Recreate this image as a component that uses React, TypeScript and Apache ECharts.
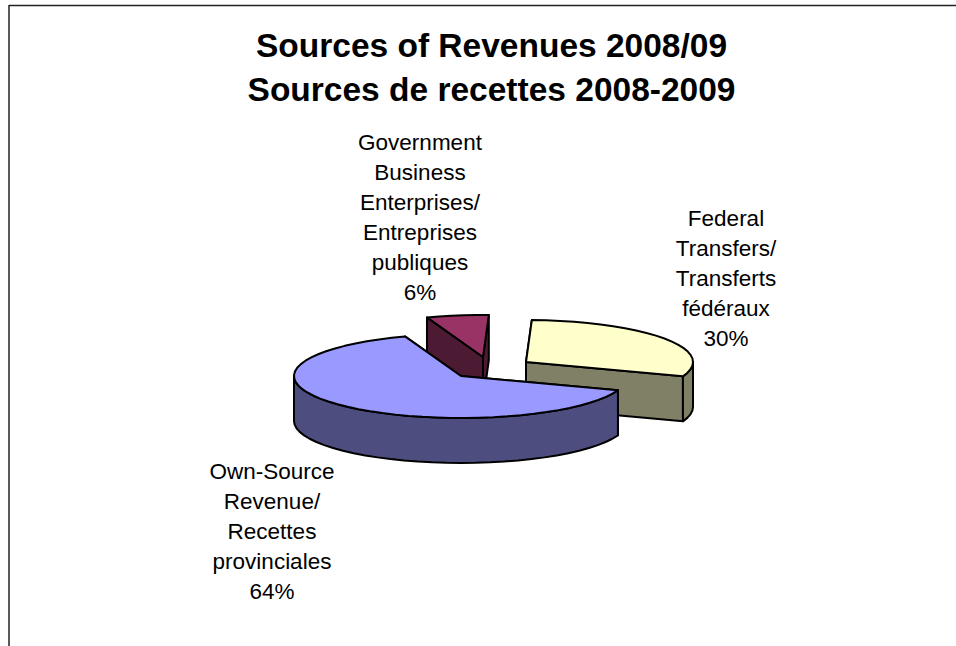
import React, { useEffect, useRef } from "react";
import * as echarts from "echarts";

// Slices in pie order, clockwise from the top
const categories = [
  ["Federal", "Transfers/", "Transferts", "fédéraux"],
  ["Own-Source", "Revenue/", "Recettes", "provinciales"],
  ["Government", "Business", "Enterprises/", "Entreprises", "publiques"],
];
const shares = [30, 64, 6];
const titleLines = ["Sources of Revenues 2008/09", "Sources de recettes 2008-2009"];

const topColors = ["#FFFFCC", "#9999FF", "#993366"];
const wallColors = ["#808066", "#4D4D80", "#4D1A33"];
const sliceOffsets = [[65, -14], [0, 0], [22, -19]];
const labelCentres = [[726, 278], [272, 531], [420, 217]];
const drawLayers = [1, 2, 0];

const CX = 461;
const CY = 376;
const RX = 167;
const RY = 42;
const DEPTH = 45;
const START_DEG = -88;
const FONT = "Liberation Sans, Arial, sans-serif";

const total = shares.reduce((a, b) => a + b, 0);

function arcPoints(ox: number, oy: number, from: number, to: number, dy = 0) {
  const steps = Math.max(2, Math.ceil(Math.abs(to - from) / 5));
  const pts: number[][] = [];
  for (let i = 0; i <= steps; i++) {
    const t = ((from + ((to - from) * i) / steps) * Math.PI) / 180;
    pts.push([ox + RX * Math.cos(t), oy + RY * Math.sin(t) + dy]);
  }
  return pts;
}

function renderSlice(params: any, api: any) {
  const i = params.dataIndex;
  const value = api.value(0);
  let before = 0;
  for (let k = 0; k < i; k++) before += shares[k];
  const from = START_DEG + (before / total) * 360;
  const to = from + (value / total) * 360;
  const ox = CX + sliceOffsets[i][0];
  const oy = CY + sliceOffsets[i][1];
  const layer = drawLayers[i] * 10;
  const line = { stroke: "#000", lineWidth: 2, lineJoin: "round" };
  const wall = (points: number[][], z: number) => ({
    type: "polygon",
    z2: layer + z,
    shape: { points },
    style: { fill: wallColors[i], ...line },
  });

  const children: any[] = [];
  const tip = [ox, oy];
  const a0 = arcPoints(ox, oy, from, from)[0];
  const a1 = arcPoints(ox, oy, to, to)[0];
  // flat cut faces behind the rim
  children.push(
    wall([tip, a0, [a0[0], a0[1] + DEPTH], [tip[0], tip[1] + DEPTH]], 1),
    wall([tip, a1, [a1[0], a1[1] + DEPTH], [tip[0], tip[1] + DEPTH]], 1)
  );
  // rim: only the part of the arc that faces the viewer (0..180 degrees)
  for (const base of [-360, 0, 360]) {
    const s = Math.max(from, base);
    const e = Math.min(to, base + 180);
    if (e > s) {
      const upper = arcPoints(ox, oy, s, e);
      const lower = arcPoints(ox, oy, s, e, DEPTH).reverse();
      children.push(wall([...upper, ...lower], 2));
    }
  }
  children.push({
    type: "polygon",
    z2: layer + 3,
    shape: { points: [tip, ...arcPoints(ox, oy, from, to)] },
    style: { fill: topColors[i], ...line },
  });
  children.push({
    type: "text",
    z2: 100,
    style: {
      text: [...categories[i], `${value}%`].join("\n"),
      x: labelCentres[i][0],
      y: labelCentres[i][1],
      align: "center",
      verticalAlign: "middle",
      font: `22.5px ${FONT}`,
      lineHeight: 30,
      fill: "#000",
    },
  });
  return { type: "group", children };
}

export default function App() {
  const ref = useRef<HTMLDivElement>(null);
  useEffect(() => {
    const chart = echarts.init(ref.current!, null, { renderer: "svg" });
    chart.setOption({
      animation: false,
      backgroundColor: "#fff",
      title: {
        text: titleLines.join("\n"),
        left: 486.5,
        top: 18,
        textAlign: "center",
        textStyle: {
          fontFamily: FONT,
          fontSize: 33.5,
          fontWeight: "bold",
          lineHeight: 44,
          color: "#000",
        },
      },
      graphic: [
        { type: "line", shape: { x1: 9, y1: 5.5, x2: 956, y2: 5.5 }, style: { stroke: "#222", lineWidth: 1.5 } },
        { type: "line", shape: { x1: 9, y1: 5, x2: 9, y2: 646 }, style: { stroke: "#222", lineWidth: 1.5 } },
      ],
      series: [
        {
          type: "custom",
          coordinateSystem: "none",
          renderItem: renderSlice,
          data: shares.map((v) => [v]),
        },
      ],
    });
    return () => chart.dispose();
  }, []);
  return <div ref={ref} style={{ position: "fixed", left: 0, top: 0, width: 956, height: 646 }} />;
}
